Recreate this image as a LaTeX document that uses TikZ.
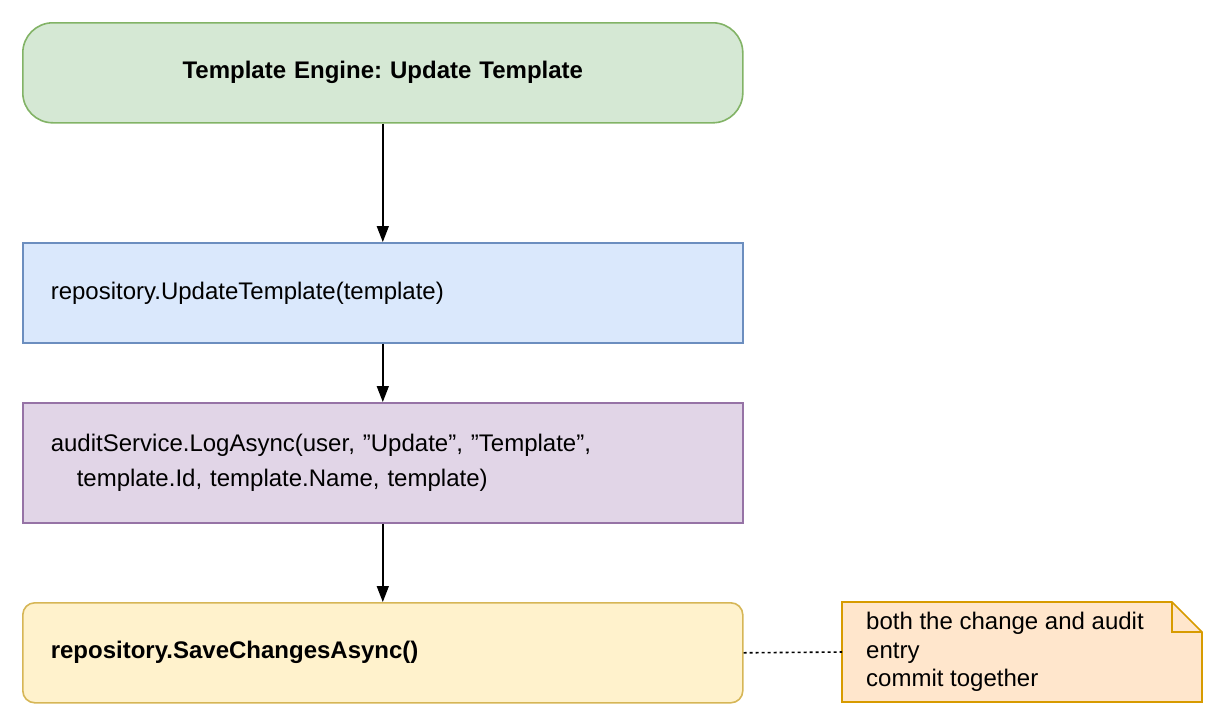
\documentclass[tikz,border=0pt]{standalone}
\usepackage{fontspec}
\setmainfont{Liberation Sans}
\usetikzlibrary{arrows.meta}
\begin{document}
\frenchspacing
\begin{tikzpicture}[x=1pt,y=-1pt,
  box/.style={draw,line width=1.6pt,minimum width=720pt,minimum height=100pt,anchor=north west,inner xsep=28pt,text width=664pt,align=left,font=\fontsize{24}{35}\selectfont},
  arr/.style={-{Triangle[length=16pt,width=12pt]},line width=1.6pt}]
\useasboundingbox (0,0) rectangle (1215,715);
\definecolor{gf}{HTML}{D5E8D4}\definecolor{gs}{HTML}{82B366}
\definecolor{bf}{HTML}{DAE8FC}\definecolor{bs}{HTML}{6C8EBF}
\definecolor{pf}{HTML}{E1D5E7}\definecolor{ps}{HTML}{9673A6}
\definecolor{yf}{HTML}{FFF2CC}\definecolor{ys}{HTML}{D6B656}
\definecolor{of}{HTML}{FFE6CC}\definecolor{os}{HTML}{D79B00}
\def\q{\symbol{34}}
\node[box,fill=gf,draw=gs,rounded corners=30pt,align=center,font=\fontsize{24}{28}\selectfont\bfseries] (a) at (22,22) {Template Engine: Update Template};
\node[box,fill=bf,draw=bs] (b) at (22,242) {repository.UpdateTemplate(template)};
\node[box,fill=pf,draw=ps,minimum height=120pt] (c) at (22,402) {auditService.LogAsync(user, \q Update\q, \q Template\q,\\\hspace*{26pt}template.Id, template.Name, template)};
\node[box,fill=yf,draw=ys,rounded corners=12pt,font=\fontsize{24}{28}\selectfont\bfseries] (d) at (22,602) {repository.SaveChangesAsync()};
\draw[fill=of,draw=os,line width=1.6pt] (842,602) -- (1172,602) -- (1202,632) -- (1202,702) -- (842,702) -- cycle;
\draw[draw=os,line width=1.6pt] (1172,602) -- (1172,632) -- (1202,632);
\node[anchor=north west,align=left,font=\fontsize{24}{28.5}\selectfont,inner sep=0pt] (n) at (866,612) {both the change and audit\\entry\\commit together};
\coordinate (nl) at (842,652);
\draw[arr] (a.south) -- (b.north);
\draw[arr] (b.south) -- (c.north);
\draw[arr] (c.south) -- (d.north);
\draw[line width=1.6pt,dashed] (d.east) -- (nl);
\end{tikzpicture}
\end{document}
